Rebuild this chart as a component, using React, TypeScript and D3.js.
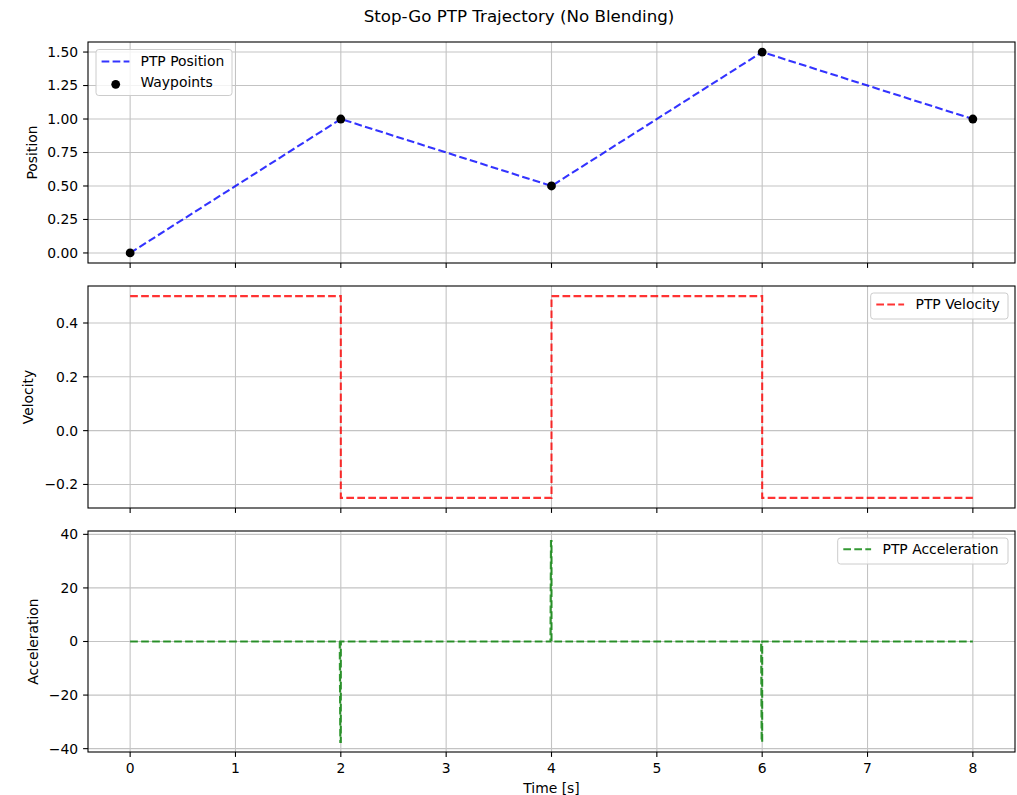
import { line, scaleLinear } from "d3";
import type { ScaleLinear } from "d3";

// ---- data ----
const xTicks = [0, 1, 2, 3, 4, 5, 6, 7, 8];

const waypointTime = [0, 2, 4, 6, 8];
const waypointPos = [0, 1, 0.5, 1.5, 1];

const velTime = [0, 2, 2, 4, 4, 6, 6, 8];
const velValue = [0.5, 0.5, -0.25, -0.25, 0.5, 0.5, -0.25, -0.25];

const accTime = [0, 1.99, 1.995, 2.0, 2.0, 3.99, 3.995, 4.0, 4.0, 5.99, 5.995, 6.0, 6.0, 8];
const accValue = [0, 0, -37.5, -37.5, 0, 0, 37.5, 37.5, 0, 0, -37.5, -37.5, 0, 0];

const posTicks = [0, 0.25, 0.5, 0.75, 1, 1.25, 1.5];
const posTickLabels = ["0.00", "0.25", "0.50", "0.75", "1.00", "1.25", "1.50"];
const velTicks = [-0.2, 0, 0.2, 0.4];
const velTickLabels = ["\u22120.2", "0.0", "0.2", "0.4"];
const accTicks = [-40, -20, 0, 20, 40];
const accTickLabels = ["\u221240", "\u221220", "0", "20", "40"];

const FONT = "'DejaVu Sans', sans-serif";
const FS = 13.9;
const W = 1017;
const H = 795;
const LEFT = 88;
const RIGHT = 1015;

type Pt = [number, number];

interface LegendSpec {
  x: number;
  y: number;
  w: number;
  h: number;
}

interface PanelProps {
  top: number;
  bottom: number;
  domain: [number, number];
  ticks: number[];
  tickLabels: string[];
  ylabel: string;
  ylabelX: number;
  showXLabels: boolean;
  children: (
    x: ScaleLinear<number, number>,
    y: ScaleLinear<number, number>,
  ) => React.ReactNode;
}

const x = scaleLinear().domain([-0.4, 8.4]).range([LEFT, RIGHT]);

function Panel({ top, bottom, domain, ticks, tickLabels, ylabel, ylabelX, showXLabels, children }: PanelProps) {
  const y = scaleLinear().domain(domain).range([bottom, top]);
  const mid = (top + bottom) / 2;
  return (
    <g>
      {/* grid */}
      <g stroke="#b0b0b0" strokeWidth={1.1} opacity={0.75}>
        {xTicks.map((t) => (
          <line key={"gx" + t} x1={x(t)} x2={x(t)} y1={top} y2={bottom} />
        ))}
        {ticks.map((t) => (
          <line key={"gy" + t} x1={LEFT} x2={RIGHT} y1={y(t)} y2={y(t)} />
        ))}
      </g>
      {children(x, y)}
      {/* spines */}
      <rect x={LEFT} y={top} width={RIGHT - LEFT} height={bottom - top} fill="none" stroke="#000" strokeWidth={1.1} />
      {/* ticks */}
      <g stroke="#000" strokeWidth={1.1}>
        {xTicks.map((t) => (
          <line key={"tx" + t} x1={x(t)} x2={x(t)} y1={bottom} y2={bottom + 4.9} />
        ))}
        {ticks.map((t) => (
          <line key={"ty" + t} x1={LEFT - 4.9} x2={LEFT} y1={y(t)} y2={y(t)} />
        ))}
      </g>
      <g fontFamily={FONT} fontSize={FS} fill="#000">
        {ticks.map((t, i) => (
          <text key={"ly" + t} x={LEFT - 9.8} y={y(t)} dy="0.35em" textAnchor="end">
            {tickLabels[i]}
          </text>
        ))}
        {showXLabels &&
          xTicks.map((t) => (
            <text key={"lx" + t} x={x(t)} y={bottom + 20.5} textAnchor="middle">
              {t}
            </text>
          ))}
        <text transform={`translate(${ylabelX},${mid}) rotate(-90)`} dy="0.35em" textAnchor="middle">
          {ylabel}
        </text>
      </g>
    </g>
  );
}

function LegendBox({ x: lx, y: ly, w, h }: LegendSpec) {
  return (
    <rect x={lx} y={ly} width={w} height={h} rx={2.8} ry={2.8} fill="#fff" fillOpacity={0.8} stroke="#cccccc" strokeWidth={1} />
  );
}

export default function App() {
  const pathOf = (xs: number[], ys: number[], xs_: ScaleLinear<number, number>, ys_: ScaleLinear<number, number>) => {
    const pts: Pt[] = xs.map((t, i) => [t, ys[i]]);
    return line<Pt>()
      .x((d) => xs_(d[0]))
      .y((d) => ys_(d[1]))(pts) ?? "";
  };
  const dash = "7.7 3.3";

  return (
    <div style={{ position: "absolute", left: 0, top: 0 }}>
      <svg width={W} height={H} style={{ display: "block", background: "#fff" }}>
        <text x={519} y={22} textAnchor="middle" fontFamily={FONT} fontSize={16.7} fill="#000">
          Stop-Go PTP Trajectory (No Blending)
        </text>

        <Panel top={42} bottom={263} domain={[-0.075, 1.575]} ticks={posTicks} tickLabels={posTickLabels}
          ylabel="Position" ylabelX={32} showXLabels={false}>
          {(xs, ys) => (
            <g>
              <path d={pathOf(waypointTime, waypointPos, xs, ys)} fill="none" stroke="#0000ff" strokeOpacity={0.8}
                strokeWidth={2.08} strokeDasharray={dash} />
              {waypointTime.map((t, i) => (
                <circle key={t} cx={xs(t)} cy={ys(waypointPos[i])} r={4.4} fill="#000" />
              ))}
              <LegendBox x={96} y={49.5} w={136} h={46} />
              <line x1={101.6} x2={129.4} y1={61.5} y2={61.5} stroke="#0000ff" strokeOpacity={0.8} strokeWidth={2.08} strokeDasharray={dash} />
              <circle cx={115.7} cy={84.3} r={4.4} fill="#000" />
              <g fontFamily={FONT} fontSize={FS} fill="#000">
                <text x={140.5} y={61.5} dy="0.35em">PTP Position</text>
                <text x={140.5} y={81.7} dy="0.35em">Waypoints</text>
              </g>
            </g>
          )}
        </Panel>

        <Panel top={286} bottom={508} domain={[-0.2875, 0.5375]} ticks={velTicks} tickLabels={velTickLabels}
          ylabel="Velocity" ylabelX={28} showXLabels={false}>
          {(xs, ys) => (
            <g>
              <path d={pathOf(velTime, velValue, xs, ys)} fill="none" stroke="#ff0000" strokeOpacity={0.8}
                strokeWidth={2.08} strokeDasharray={dash} />
              <LegendBox x={870.7} y={293} w={137.3} h={26} />
              <line x1={876.3} x2={904.1} y1={304.5} y2={304.5} stroke="#ff0000" strokeOpacity={0.8} strokeWidth={2.08} strokeDasharray={dash} />
              <text x={915.5} y={304.5} dy="0.35em" fontFamily={FONT} fontSize={FS} fill="#000">PTP Velocity</text>
            </g>
          )}
        </Panel>

        <Panel top={531} bottom={752} domain={[-41.25, 41.25]} ticks={accTicks} tickLabels={accTickLabels}
          ylabel="Acceleration" ylabelX={33.5} showXLabels={true}>
          {(xs, ys) => (
            <g>
              <path d={pathOf(accTime, accValue, xs, ys)} fill="none" stroke="#008000" strokeOpacity={0.8}
                strokeWidth={2.08} strokeDasharray={dash} />
              <LegendBox x={837.7} y={538} w={170.3} h={26} />
              <line x1={843.3} x2={871.1} y1={549.3} y2={549.3} stroke="#008000" strokeOpacity={0.8} strokeWidth={2.08} strokeDasharray={dash} />
              <text x={882.5} y={549.3} dy="0.35em" fontFamily={FONT} fontSize={FS} fill="#000">PTP Acceleration</text>
            </g>
          )}
        </Panel>

        <text x={551.5} y={793} textAnchor="middle" fontFamily={FONT} fontSize={FS} fill="#000">
          Time [s]
        </text>
      </svg>
    </div>
  );
}
